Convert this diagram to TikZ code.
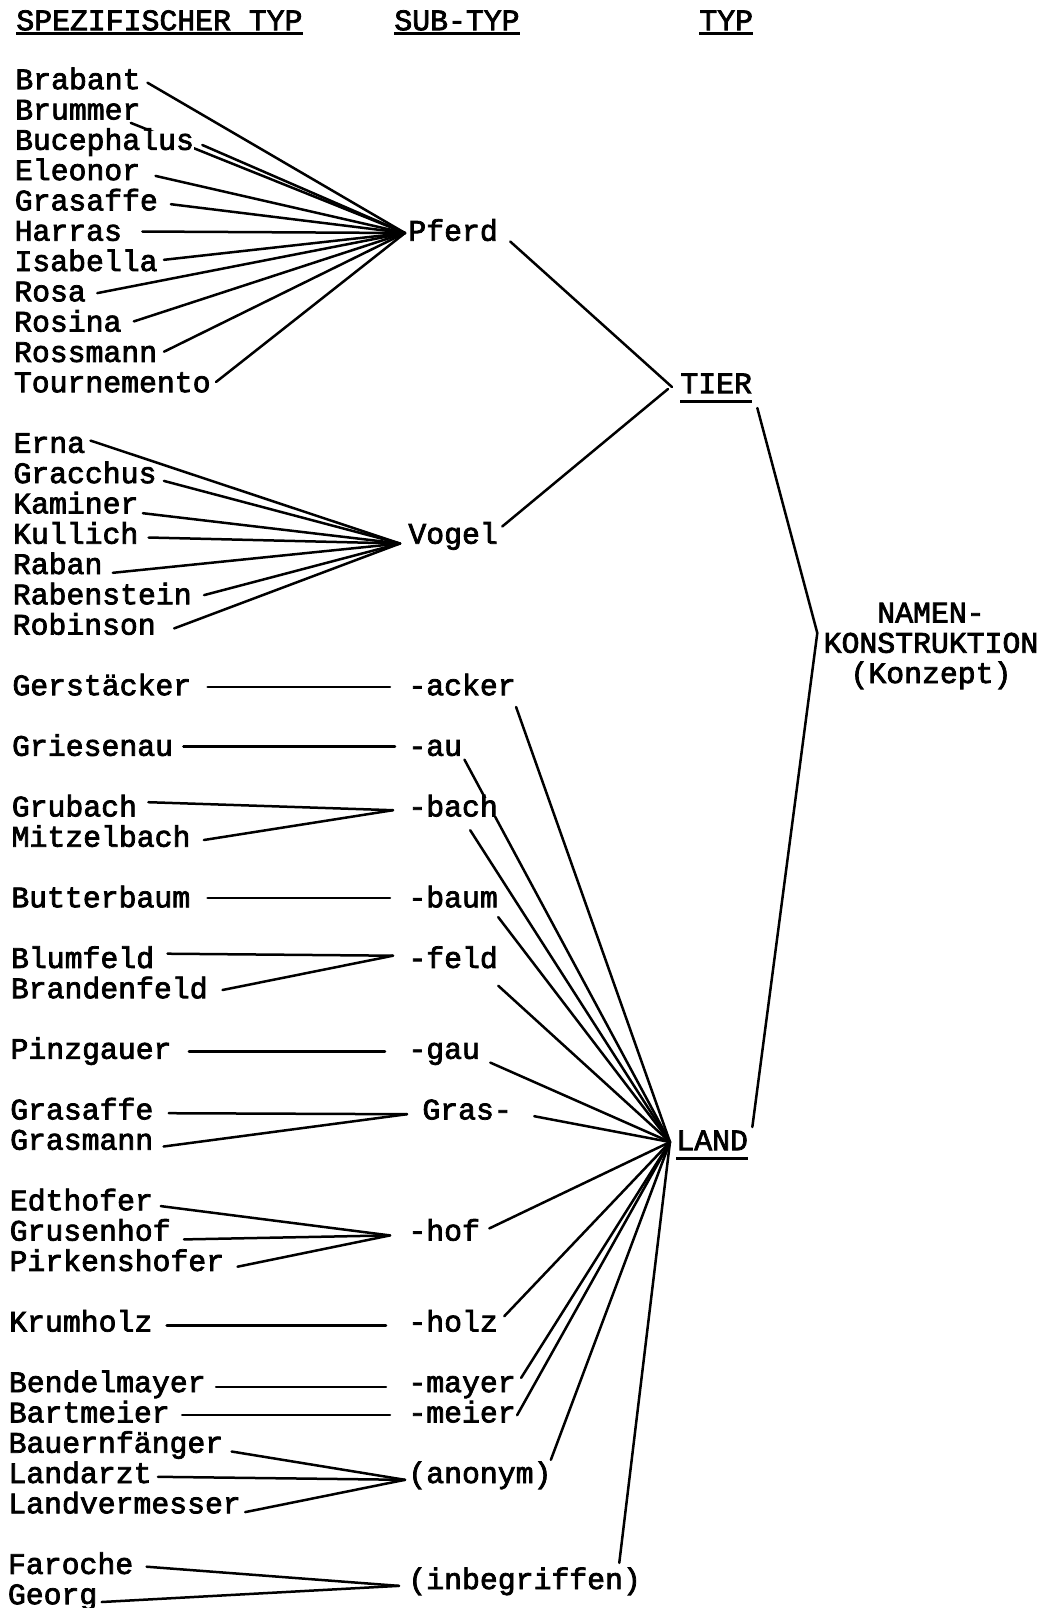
\documentclass[tikz,border=0pt]{standalone}
\usepackage{fontspec}
\newfontfamily\typewriter{Liberation Mono}[FakeBold=2.5]
\usetikzlibrary{calc,backgrounds}

\begin{document}
\begin{tikzpicture}[x=0.5pt,y=-0.5pt,
    txt/.style={font=\typewriter\fontsize{14.9pt}{15.15pt}\selectfont,
        inner sep=0pt, text height=9.2pt, text depth=0pt, anchor=west, fill=white},
    lin/.style={line width=1.25pt, line cap=round},
    ul/.style={line width=1.4pt}]

\useasboundingbox (0,0) rectangle (1042,1608);

% Kopfzeile
\node[txt] (hspez) at (16,21) {SPEZIFISCHER TYP};
\node[txt] (hsub) at (394,21) {SUB-TYP};
\node[txt] (htyp) at (699,21) {TYP};
\foreach \h in {hspez,hsub,htyp}
    \draw[ul] ($(\h.south west)+(0,3)$) -- ($(\h.south east)+(0,3)$);

% spezifische Typen, eine Zeile = 30.3
\foreach \n/\t/\r in {br/Brabant/0, bm/Brummer/1, bc/Bucephalus/2, el/Eleonor/3,
    gs/Grasaffe/4, ha/Harras/5, is/Isabella/6, ro/Rosa/7, rn/Rosina/8,
    rm/Rossmann/9, tm/Tournemento/10,
    er/Erna/12, gc/Gracchus/13, ka/Kaminer/14, ku/Kullich/15, ra/Raban/16,
    rs/Rabenstein/17, rb/Robinson/18,
    ge/Gerstäcker/20, gr/Griesenau/22, gb/Grubach/24, mz/Mitzelbach/25,
    bu/Butterbaum/27, bl/Blumfeld/29, bd/Brandenfeld/30, pz/Pinzgauer/32,
    ga/Grasaffe/34, gm/Grasmann/35, ed/Edthofer/37, gh/Grusenhof/38,
    pk/Pirkenshofer/39, kh/Krumholz/41, bn/Bendelmayer/43, ba/Bartmeier/44,
    bf/Bauernfänger/45, la/Landarzt/46, lv/Landvermesser/47,
    fa/Faroche/49, go/Georg/50}
    \node[txt] (\n) at ({15-0.15*\r},{80+30.3*\r}) {\t};

% Sub-Typen
\foreach \n/\t/\x/\r in {pferd/Pferd/408/5, vogel/Vogel/408/15, acker/-acker/408/20,
    au/-au/408/22, bach/-bach/408/24, baum/-baum/408/27, feld/-feld/408/29,
    gau/-gau/408/32, gras/Gras-/422/34, hof/-hof/408/38, holz/-holz/408/41,
    mayer/-mayer/408/43, meier/-meier/408/44, anonym/(anonym)/408/46,
    inbeg/(inbegriffen)/408/49.5}
    \node[txt] (\n) at (\x,{80+30.3*\r}) {\t};

% Typen
\node[txt] (tier) at (680,384) {TIER};
\node[txt] (land) at (676,1141) {LAND};
\draw[ul] ($(tier.south west)+(0,8)$) -- ($(tier.south east)+(0,8)$);
\draw[ul] ($(land.south west)+(0,7.5)$) -- ($(land.south east)+(0,7.5)$);
\node[font=\typewriter\fontsize{14.9pt}{15.15pt}\selectfont, align=center,
    inner sep=0pt] (namen) at (931,646) {NAMEN-\\KONSTRUKTION\\(Konzept)};

\coordinate (pf) at ($(pferd.west)+(-3,1.5)$);
\coordinate (vf) at ($(vogel.west)+(-8,9)$);
\coordinate (lf) at ($(land.west)+(-6,1)$);
\coordinate (kb) at ($(namen.west)+(-6,-13)$);

\begin{scope}[on background layer]
% zu Pferd und Vogel
\foreach \n/\gx/\gy in {br/6.5/2.7, bc/8/4.4, el/15/5, gs/12.6/3, ha/20/0,
    is/6/-2, ro/11/1, rn/12/-1, rm/6.5/-1, tm/5/-1}
    \draw[lin] ($(\n.east)+(\gx,\gy)$) -- (pf);
\draw[lin] ($(bm.south east)+(-10,3)$) -- (pf);
\foreach \n/\gx/\gy in {er/5/-3, gc/7/7, ka/4/9, ku/10/3, ra/10/8, rs/12/0, rb/18/3}
    \draw[lin] ($(\n.east)+(\gx,\gy)$) -- (vf);
% Namen zu Endungen
\foreach \a/\gx/\gy/\b/\hx/\hy in {ge/16/1/acker/18/1, gr/10/0/au/13/0,
    gb/11/-5/bach/15/3, mz/13/2.5/bach/15/3, bu/17/0/baum/18/0,
    bl/13/-5/feld/15/-3, bd/14.5/1/feld/15/-3, pz/17/2/gau/23/2,
    ga/15/3/gras/15/4, gm/10/6/gras/15/4, ed/7.5/5/hof/18/4, gh/13/8/hof/18/4,
    pk/13/5/hof/18/4, kh/14/3/holz/22/3, bn/10/4/mayer/22/4, ba/12/2/meier/18/2,
    bf/8/8/anonym/3/6, la/6/3/anonym/3/6, lv/4/8/anonym/3/6,
    fa/13/2/inbeg/9/6, go/4/7/inbeg/9/6}
    \draw[lin] ($(\a.east)+(\gx,\gy)$) -- ($(\b.west)+(-\hx,\hy)$);
% Endungen zu LAND
\foreach \n/\gx/\gy in {acker/0/21, au/2/13, bach/-28/23, baum/0/19, feld/0/27,
    gau/10/13, gras/22/6, hof/9/-3, holz/6/-6, mayer/5/-5, meier/1/2,
    anonym/-1/-14, inbeg/-22/-17}
    \draw[lin] ($(\n.east)+(\gx,\gy)$) -- (lf);
% TIER, LAND, Konzept
\draw[lin] ($(pferd.east)+(12,10)$) -- ($(tier.west)+(-8,3)$);
\draw[lin] ($(vogel.east)+(4,-8)$) -- ($(tier.west)+(-12,5)$);
\draw[lin] ($(tier.east)+(5,24)$) -- (kb) -- ($(land.east)+(4,-14)$);
\end{scope}
\end{tikzpicture}
\end{document}
